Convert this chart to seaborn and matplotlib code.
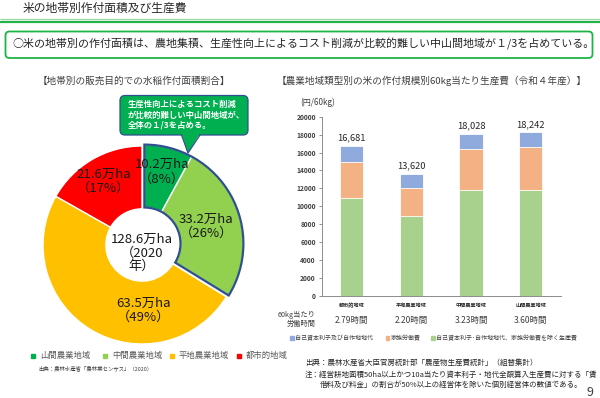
import numpy as np
import pandas as pd
import matplotlib
matplotlib.use("Agg")
import matplotlib.pyplot as plt
from matplotlib.patches import FancyBboxPatch, Polygon, Rectangle
import seaborn as sns

# ---------------- data ----------------
pie_regions = ["山間農業地域", "中間農業地域", "平地農業地域", "都市的地域"]
pie_area = [10.2, 33.2, 63.5, 21.6]          # 万ha
pie_pct = [8, 26, 49, 17]
pie_total_label = "128.6万ha\n（2020\n年）"

bar_categories = ["都市的地域", "平地農業地域", "中間農業地域", "山間農業地域"]
bar_totals = [16681, 13620, 18028, 18242]
cost_other = [10900, 8930, 11780, 11820]      # 自己資本利子・自作地地代、家族労働費を除く生産費
cost_family = [4050, 3150, 4590, 4850]        # 家族労働費
labor_hours = ["2.79時間", "2.20時間", "3.23時間", "3.60時間"]
y_ticks = list(range(0, 20001, 2000))

# ---------------- style ----------------
sns.set_theme(style="white")
plt.rcParams["font.family"] = ["Noto Sans CJK JP", "DejaVu Sans"]

W, H = 600, 398
fig = plt.figure(figsize=(W / 100, H / 100), dpi=100)
fig.patch.set_facecolor("white")

def px_ax(rect_px):
    l, t, w, h = rect_px
    return [l / W, 1 - (t + h) / H, w / W, h / H]

# background overlay in pixel coords
bg = fig.add_axes([0, 0, 1, 1], zorder=0)
bg.set_xlim(0, W); bg.set_ylim(H, 0); bg.axis("off")

dark = "#262626"
bg.text(23, 8.5, "米の地帯別作付面積及び生産費", fontsize=8.5, color=dark, va="center", ha="left")
bg.plot([0, W], [19, 19], color="#9BD8A6", lw=0.9, solid_capstyle="butt")
bg.plot([0, W], [22.3, 22.3], color="#26B14B", lw=1.6, solid_capstyle="butt")
bg.add_patch(FancyBboxPatch((5.5, 31.5), 587, 26.5, boxstyle="round,pad=0,rounding_size=4",
                            fc="white", ec="#1DB446", lw=1.3))
bg.text(12.5, 44, "○米の地帯別の作付面積は、農地集積、生産性向上によるコスト削減が比較的難しい中山間地域が１/3を占めている。",
        fontsize=7.9, color=dark, va="center", ha="left")

bg.text(134, 80.7, "【地帯別の販売目的での水稲作付面積割合】", fontsize=6.9, color="#404040", ha="center", va="center")
bg.text(277, 80.7, "【農業地域類型別の米の作付規模別60kg当たり生産費（令和４年産）】", fontsize=6.9,
        color="#404040", ha="left", va="center")

# ---------------- pie (donut) ----------------
pie_colors = ["#00B050", "#92D050", "#FFC000", "#FF0000"]
R = 99
cx, cy = 142, 245
axp = fig.add_axes(px_ax((cx - 1.05 * R, cy - 1.05 * R, 2.1 * R, 2.1 * R)), zorder=2)

wp = dict(width=0.635, edgecolor="white", linewidth=1.0)
w1, _ = axp.pie(pie_area, colors=pie_colors, startangle=90, counterclock=False, wedgeprops=wp)
for w in w1[:2]:
    w.set_visible(False)
shift = (0.024, 0.014)
w2, _ = axp.pie(pie_area, colors=pie_colors, startangle=90, counterclock=False, wedgeprops=wp, center=shift)
for w in w2[2:]:
    w.set_visible(False)
mid_sum = [pie_area[0] + pie_area[1], pie_area[2] + pie_area[3]]
w3, _ = axp.pie(mid_sum, colors=["none", "none"], startangle=90, counterclock=False, center=shift,
                wedgeprops=dict(width=0.635, edgecolor="#2F4F8F", linewidth=1.6, fill=False))
w3[1].set_visible(False)
axp.set_xlim(-1.05, 1.05); axp.set_ylim(-1.05, 1.05); axp.set_aspect("equal"); axp.axis("off")

label_pos = [(0.2, 0.74), (0.65, 0.185), (0.013, -0.66), (-0.39, 0.64)]
for (x, y), a, p in zip(label_pos, pie_area, pie_pct):
    axp.text(x, y, f"{a}万ha\n（{p}%）", ha="center", va="center", fontsize=9.5, color="#1a1a1a", linespacing=1.1)
axp.text(0.0, -0.08, pie_total_label, ha="center", va="center", fontsize=9.5, color="#1a1a1a", linespacing=1.05)

# pie legend
leg_x = [33, 105, 171.5, 239]
for x, c, t in zip(leg_x, pie_colors, pie_regions):
    bg.add_patch(Rectangle((x - 2, 353.5), 4.3, 4.3, color=c))
    bg.text(x + 7, 355.7, t, fontsize=6, color="#595959", va="center", ha="left")
bg.text(38, 368, "出典：農林水産省「農林業センサス」（2020）", fontsize=3.9, color="#404040", va="center", ha="left")

# ---------------- stacked bar ----------------
c_other, c_family, c_own = "#A9D18E", "#F4B183", "#8FAADC"
axb = fig.add_axes(px_ax((321.7, 116.7, 239, 179)), zorder=2)
df = pd.DataFrame({"cat": bar_categories, "total": bar_totals,
                   "mid": np.add(cost_other, cost_family), "low": cost_other})
kw = dict(x="cat", order=bar_categories, width=0.39, saturation=1, ax=axb,
          edgecolor="white", linewidth=0.6, errorbar=None)
sns.barplot(data=df, y="total", color=c_own, **kw)
sns.barplot(data=df, y="mid", color=c_family, **kw)
sns.barplot(data=df, y="low", color=c_other, **kw)

axb.set_xlim(-0.5, 3.5)
axb.set_ylim(0, 20000)
axb.set_yticks(y_ticks)
axb.set_yticklabels([str(v) for v in y_ticks], fontsize=4.8, color="#404040", fontweight="bold")
axb.set_xlabel(""); axb.set_ylabel("")
axb.tick_params(axis="x", length=0, pad=5.2, labelsize=3.7, labelcolor="#262626")
for lab in axb.get_xticklabels():
    lab.set_fontweight("bold")
axb.tick_params(axis="y", length=2.2, width=0.6, pad=2, color="#808080", left=True)
for s in ["top", "right"]:
    axb.spines[s].set_visible(False)
for s in ["left", "bottom"]:
    axb.spines[s].set_color("#8C8C8C"); axb.spines[s].set_linewidth(0.7)
axb.set_facecolor("none")

for i, t in enumerate(bar_totals):
    axb.annotate(f"{t:,}", xy=(i, t), xytext=(0, 2.6), textcoords="offset points",
                 ha="center", va="bottom", fontsize=6.7, color="#262626")
for i, h in enumerate(labor_hours):
    axb.annotate(h, xy=(i, 1 - 320.7 / H), xycoords=("data", "figure fraction"),
                 ha="center", va="center", fontsize=6.1, color="#404040", annotation_clip=False)

bg.text(316, 315, "60kg当たり", fontsize=5.2, color="#404040", ha="right", va="center")
bg.text(316, 324, "労働時間", fontsize=5.2, color="#404040", ha="right", va="center")
bg.text(300, 102.7, "(円/60kg)", fontsize=5.8, color="#404040", ha="left", va="center")

bar_leg = [(291.7, c_own, "自己資本利子及び自作地地代"), (387.3, c_family, "家族労働費"),
           (432.7, c_other, "自己資本利子･自作地地代、家族労働費を除く生産費")]
for x, c, t in bar_leg:
    bg.add_patch(Rectangle((x - 1.8, 336.2), 3.6, 3.6, color=c))
    bg.text(x + 3.5, 338, t, fontsize=4.3, color="#404040", va="center", ha="left")

bg.text(305, 363.3, "出典：農林水産省大臣官房統計部「農産物生産費統計」（組替集計）", fontsize=5.4, color="#262626", va="center")
bg.text(305, 375, "注：経営耕地面積50ha以上かつ10a当たり資本利子・地代全額算入生産費に対する「賃",
        fontsize=5.4, color="#262626", va="center")
bg.text(320, 384.5, "借料及び料金」の割合が50%以上の経営体を除いた個別経営体の数値である。",
        fontsize=5.4, color="#262626", va="center")
bg.text(590, 392.5, "9", fontsize=9, color="#404040", ha="center", va="center")

# ---------------- callout (on top) ----------------
top = fig.add_axes([0, 0, 1, 1], zorder=5)
top.set_xlim(0, W); top.set_ylim(H, 0); top.axis("off"); top.patch.set_alpha(0)
green, navy = "#00B050", "#2F4F8F"
top.add_patch(FancyBboxPatch((120, 95.5), 128, 39.5, boxstyle="round,pad=0,rounding_size=5",
                             fc=green, ec=navy, lw=0.9))
top.add_patch(Polygon([(181.5, 133.5), (188, 153), (200, 133.5)], closed=True, fc=green, ec="none"))
top.plot([181.5, 188, 200], [135, 153, 135], color=navy, lw=0.9)
top.text(128, 115, "生産性向上によるコスト削減\nが比較的難しい中山間地域が、\n全体の１/3を占める。",
         fontsize=6.0, color="white", fontweight="bold", ha="left", va="center", linespacing=1.2)

fig.savefig("out.png", dpi=100)
